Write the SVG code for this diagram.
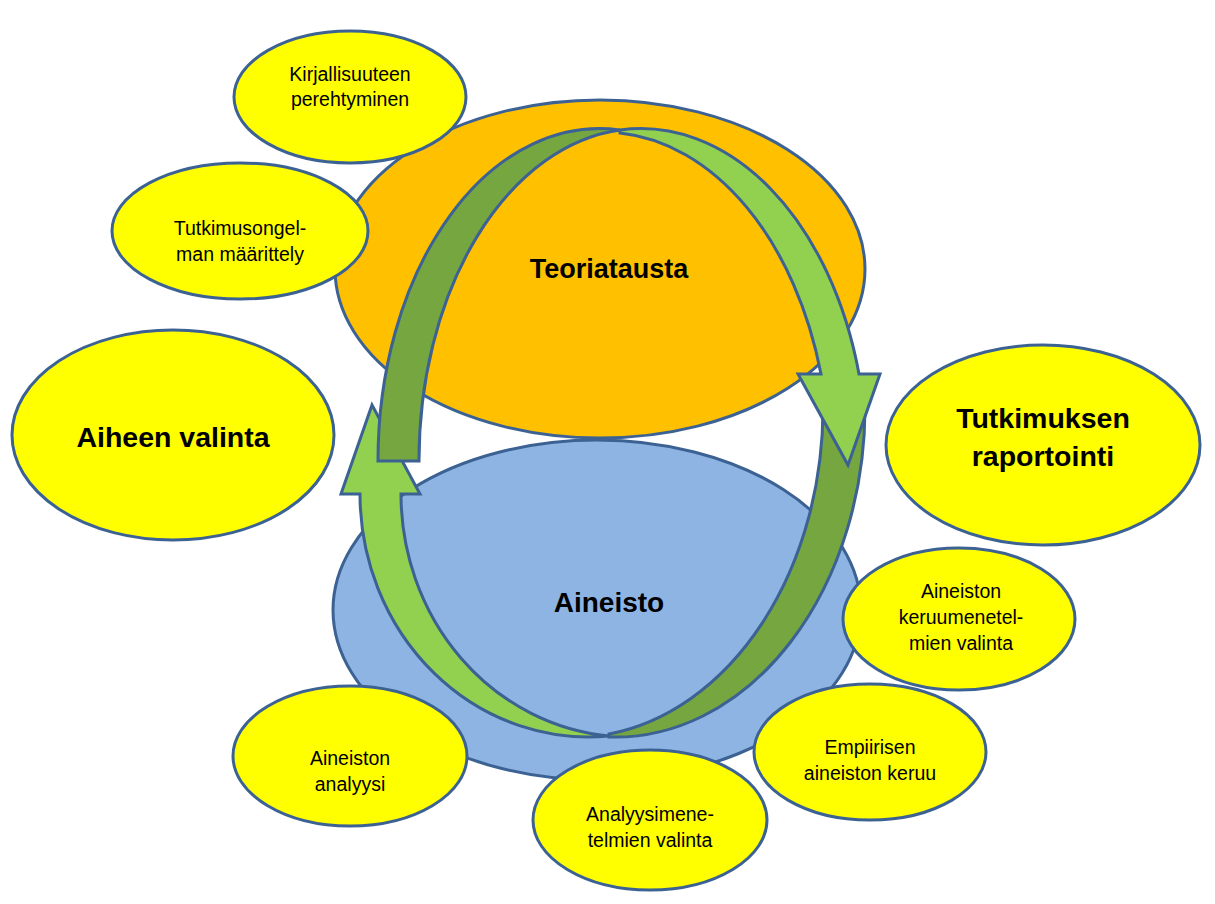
<svg xmlns="http://www.w3.org/2000/svg" width="1215" height="904" viewBox="0 0 1215 904">
<style>
.o{stroke:#3C6294;stroke-width:3;stroke-linejoin:miter}
.y{fill:#FFFF00}
.s{font-family:"Liberation Sans",Arial,sans-serif;font-size:19.5px;fill:#000;text-anchor:middle}
.b{font-family:"Liberation Sans",Arial,sans-serif;font-weight:bold;font-size:28px;fill:#000;text-anchor:middle}
.lg{fill:#92D050}
.dg{fill:#75A640}
</style>
<rect width="1215" height="904" fill="#FFFFFF"/>
<g id="teoriatausta">
<ellipse class="o" cx="600" cy="269" rx="265" ry="169" fill="#FFC000"/>
<text class="b" x="609" y="278" style="font-size:27px">Teoriatausta</text>
</g>
<g id="aineisto">
<ellipse class="o" cx="597" cy="610" rx="264" ry="170" fill="#8EB4E3"/>
<text class="b" x="609" y="612">Aineisto</text>
</g>
<g id="kirjallisuuteen">
<ellipse class="o y" cx="350" cy="97" rx="116" ry="66"/>
<text class="s" x="350" y="81">Kirjallisuuteen</text>
<text class="s" x="350" y="106">perehtyminen</text>
</g>
<g id="tutkimusongelma">
<ellipse class="o y" cx="240" cy="231" rx="128" ry="68"/>
<text class="s" x="240" y="235">Tutkimusongel-</text>
<text class="s" x="240" y="261">man määrittely</text>
</g>
<g id="aiheen-valinta">
<ellipse class="o y" cx="173" cy="435" rx="161" ry="105"/>
<text class="b" x="173" y="447" style="font-size:28.5px">Aiheen valinta</text>
</g>
<g id="raportointi">
<ellipse class="o y" cx="1043" cy="445" rx="157" ry="100"/>
<text class="b" x="1043" y="428" style="font-size:28.5px">Tutkimuksen</text>
<text class="b" x="1043" y="466" style="font-size:28.5px">raportointi</text>
</g>
<g id="keruumenetelmat">
<ellipse class="o y" cx="959" cy="619" rx="116" ry="71"/>
<text class="s" x="961" y="598">Aineiston</text>
<text class="s" x="961" y="624">keruumenetel-</text>
<text class="s" x="961" y="650">mien valinta</text>
</g>
<g id="analyysimenetelmat">
<ellipse class="o y" cx="650" cy="820" rx="117" ry="70"/>
<text class="s" x="650" y="821">Analyysimene-</text>
<text class="s" x="650" y="847">telmien valinta</text>
</g>
<g id="empiirinen-keruu">
<ellipse class="o y" cx="870" cy="752" rx="116" ry="68"/>
<text class="s" x="870" y="754">Empiirisen</text>
<text class="s" x="870" y="780">aineiston keruu</text>
</g>
<g id="aineiston-analyysi">
<ellipse class="o y" cx="350" cy="756" rx="117" ry="70"/>
<text class="s" x="350" y="765">Aineiston</text>
<text class="s" x="350" y="791">analyysi</text>
</g>
<g id="connectors">
<path class="o dg" d="M609,734 A250 330 0 0 0 823,405 L865,405 A250 330 0 0 1 609,737 Z"/>
<path class="o lg" d="M609,736 A228.5 243 0 0 1 360,494 L341,494 L372,405 L420,494 L401,494 A228.5 243 0 0 0 609,736 Z"/>
<path class="o dg" d="M378,461 A221.5 332 0 0 1 620,130 A221.5 332 0 0 0 419,461 Z"/>
<path class="o lg" d="M620,130 A226 332 0 0 1 859,374 L880,374 L848,465 L798,374 L821,374 A226 332 0 0 0 620,133 Z"/>
</g>
</svg>
